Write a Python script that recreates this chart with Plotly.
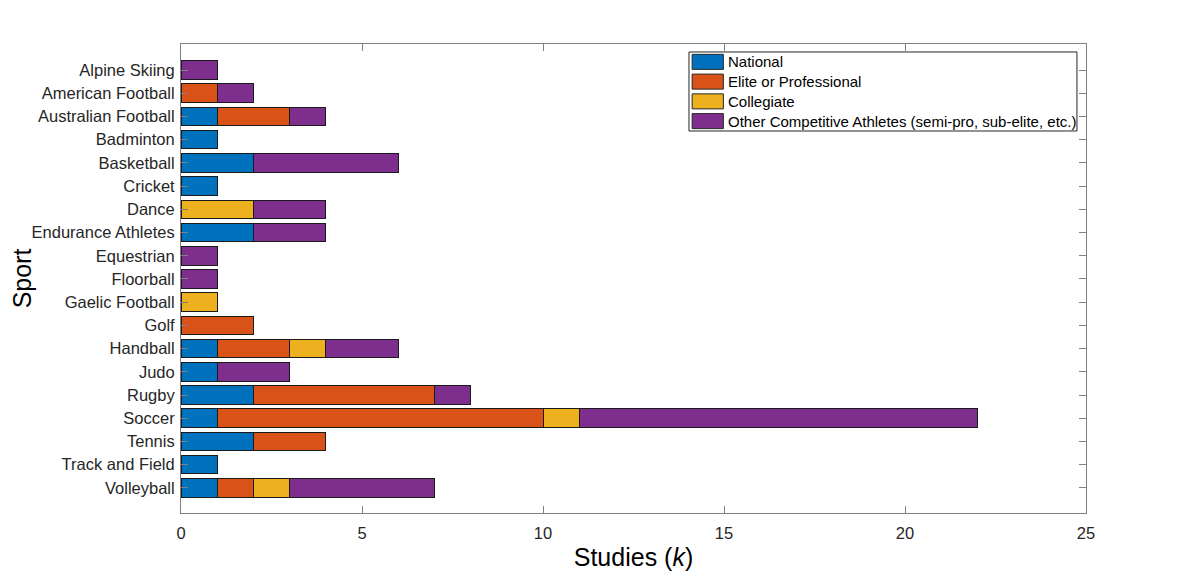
import plotly.graph_objects as go

# sports listed top to bottom
sports = ["Alpine Skiing", "American Football", "Australian Football", "Badminton",
          "Basketball", "Cricket", "Dance", "Endurance Athletes", "Equestrian",
          "Floorball", "Gaelic Football", "Golf", "Handball", "Judo", "Rugby",
          "Soccer", "Tennis", "Track and Field", "Volleyball"]

national = [0, 0, 1, 1, 2, 1, 0, 2, 0, 0, 0, 0, 1, 1, 2, 1, 2, 1, 1]
elite = [0, 1, 2, 0, 0, 0, 0, 0, 0, 0, 0, 2, 2, 0, 5, 9, 2, 0, 1]
collegiate = [0, 0, 0, 0, 0, 0, 2, 0, 0, 0, 1, 0, 1, 0, 0, 1, 0, 0, 1]
other = [1, 1, 1, 0, 4, 0, 2, 2, 1, 1, 0, 0, 2, 2, 1, 11, 0, 0, 4]

series_names = ["National", "Elite or Professional", "Collegiate",
                "Other Competitive Athletes (semi-pro, sub-elite, etc.)"]
colors = ["#0072BD", "#D95319", "#EDB120", "#7E2F8E"]
x_ticks = [0, 5, 10, 15, 20, 25]

axis_grey = "#808080"
font_name = "Liberation Sans, Arial, sans-serif"

fig = go.Figure()
for name, vals, col in zip(series_names, [national, elite, collegiate, other], colors):
    fig.add_trace(go.Bar(
        y=sports, x=vals, name=name, orientation="h",
        marker=dict(color=col, line=dict(color="#1a1a1a", width=1)),
        width=0.8, showlegend=False,
    ))

# MATLAB-like legend box (drawn by hand so the swatches are wide rectangles)
lx0, lx1 = 0.5613, 0.990   # paper coords of the legend box
ly1, ly0 = 0.983, 0.8145
fig.add_shape(type="rect", xref="paper", yref="paper", x0=lx0, x1=lx1, y0=ly0, y1=ly1,
              line=dict(color="#262626", width=1), fillcolor="white", layer="above")
row_h = (ly1 - ly0) / 4
for i, (name, col) in enumerate(zip(series_names, colors)):
    yc = ly1 - row_h * (i + 0.5)
    fig.add_shape(type="rect", xref="paper", yref="paper",
                  x0=lx0 + 0.0035, x1=lx0 + 0.038, y0=yc - 0.016, y1=yc + 0.016,
                  line=dict(color="#262626", width=1), fillcolor=col, layer="above")
    fig.add_annotation(text=name, xref="paper", yref="paper", x=lx0 + 0.0405, y=yc,
                       xanchor="left", yanchor="middle", showarrow=False,
                       font=dict(size=15, color="#000000", family=font_name))

# page is drawn with an 8px body offset, margins compensate for it
fig.update_layout(
    width=1200, height=579,
    margin=dict(l=173, r=122, t=36, b=74),
    barmode="stack",
    bargap=0.2,
    plot_bgcolor="white",
    paper_bgcolor="white",
    font=dict(family=font_name, color="#262626"),
)

fig.update_xaxes(
    range=[0, 25], tickvals=x_ticks, ticks="inside", ticklen=7,
    tickcolor=axis_grey, showline=True, linecolor=axis_grey, linewidth=1,
    mirror="allticks", showgrid=False, zeroline=False, automargin=False,
    tickfont=dict(size=16.5, color="#262626"), ticklabelstandoff=5,
    title=dict(text="Studies (<i>k</i>)", font=dict(size=25, color="#000000"), standoff=7),
)
fig.update_yaxes(
    range=[19.08, -1.12], ticks="inside", ticklen=7,
    tickcolor=axis_grey, showline=True, linecolor=axis_grey, linewidth=1,
    mirror="allticks", showgrid=False, zeroline=False, automargin=False,
    tickfont=dict(size=16.5, color="#262626"), ticklabelstandoff=2,
    title=dict(text="Sport", font=dict(size=25, color="#000000"), standoff=8),
)

fig.write_html("out.html")
